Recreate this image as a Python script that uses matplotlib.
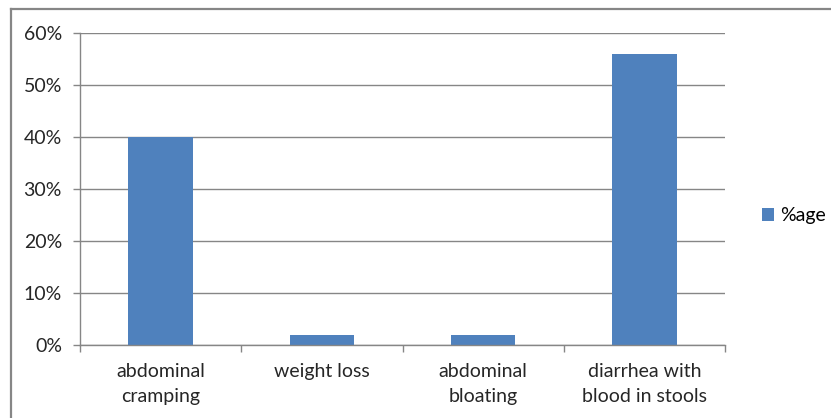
import matplotlib
matplotlib.use("Agg")
import matplotlib.pyplot as plt
from matplotlib.lines import Line2D
from matplotlib.ticker import FuncFormatter, MultipleLocator

symptoms = ["abdominal\ncramping", "weight loss", "abdominal\nbloating",
            "diarrhea with\nblood in stools"]
share = [0.40, 0.02, 0.02, 0.56]
series_name = "%age"

plt.rcParams["font.family"] = ["Lato", "DejaVu Sans"]
plt.rcParams["font.size"] = 14

W, H = 831, 418
fig = plt.figure(figsize=(W / 100, H / 100), dpi=100)
ax = fig.add_axes([80 / W, 1 - 345 / H, 645 / W, 312 / H])

grey = "#868686"
xs = list(range(len(symptoms)))
ax.bar(xs, share, width=0.4, color="#4F81BD", zorder=3, label=series_name)

ax.set_xlim(-0.5, len(symptoms) - 0.5)
ax.set_ylim(0, 0.6)
ax.yaxis.set_major_locator(MultipleLocator(0.1))
ax.yaxis.set_major_formatter(FuncFormatter(lambda v, p: f"{v * 100:.0f}%"))
ax.grid(axis="y", color=grey, linewidth=1.0, zorder=0)

# category ticks sit on the boundaries between bars
ax.set_xticks(xs)
ax.set_xticklabels(symptoms, linespacing=1.6)
ax.set_xticks([x - 0.5 for x in xs] + [len(xs) - 0.5], minor=True)
ax.tick_params(axis="x", which="major", length=0, pad=13)
ax.tick_params(axis="x", which="minor", length=5, width=1, color=grey, direction="out")
ax.tick_params(axis="y", length=5, width=1, color=grey, pad=8, direction="out")
ax.tick_params(which="both", labelcolor="#262626")

for side in ("top", "right"):
    ax.spines[side].set_visible(False)
for side in ("left", "bottom"):
    ax.spines[side].set_color(grey)
    ax.spines[side].set_linewidth(1.0)
    ax.spines[side].set_zorder(4)

fig.legend(loc="center left", bbox_to_anchor=(754 / W, 1 - 216 / H), frameon=False,
           handlelength=0.65, handleheight=0.65, handletextpad=0.3, borderaxespad=0,
           fontsize=14)

# chart border (left and top edges)
fig.add_artist(Line2D([11 / W, 11 / W], [0, 1 - 9 / H], color=grey, linewidth=1.6,
                      transform=fig.transFigure))
fig.add_artist(Line2D([11 / W, 1], [1 - 9 / H, 1 - 9 / H], color=grey, linewidth=1.6,
                      transform=fig.transFigure))

fig.savefig("out.png", dpi=100)
